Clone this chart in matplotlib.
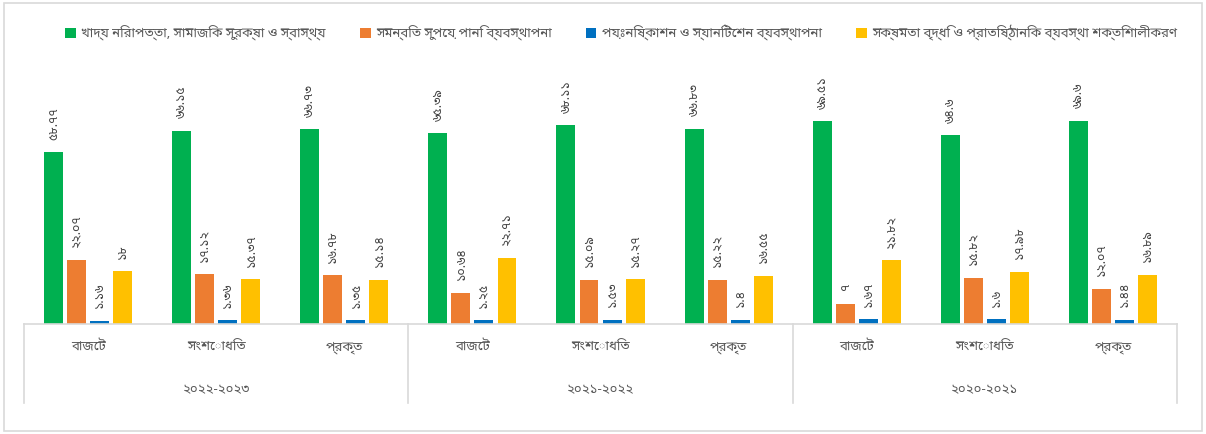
import numpy as np
import matplotlib
matplotlib.use("Agg")
import matplotlib.pyplot as plt
from matplotlib.patches import Rectangle
from matplotlib.transforms import blended_transform_factory

plt.rcParams['font.family'] = ['Noto Sans Bengali', 'DejaVu Sans']

years = ["২০২২-২০২৩", "২০২১-২০২২", "২০২০-২০২১"]
stages = ["বাজেট", "সংশোধিত", "প্রকৃত"]
series_names = [
    "খাদ্য নিরাপত্তা, সামাজিক সুরক্ষা ও স্বাস্থ্য",
    "সমন্বিত সুপেয় পানি ব্যবস্থাপনা",
    "পয়ঃনিষ্কাশন ও স্যানিটেশন ব্যবস্থাপনা",
    "সক্ষমতা বৃদ্ধি ও প্রাতিষ্ঠানিক ব্যবস্থা শক্তিশালীকরণ",
]
colors = ["#00b050", "#ed7d31", "#0070c0", "#ffc000"]

# order: 2022-23 (budget, revised, actual), 2021-22 (...), 2020-21 (...)
green = [58.77, 66.15, 66.73, 65.39, 68.11, 66.83, 69.51, 64.60, 69.60]
orange = [22.07, 17.12, 16.78, 10.64, 15.09, 15.22, 7, 15.82, 12.07]
blue = [1.16, 1.36, 1.35, 1.25, 1.53, 1.4, 1.67, 1.6, 1.44]
yellow = [18, 15.37, 15.14, 22.71, 15.27, 16.55, 21.82, 17.98, 16.89]
series = [green, orange, blue, yellow]

bn = str.maketrans("0123456789", "০১২৩৪৫৬৭৮৯")


def fmt(v):
    s = f"{v:.2f}".rstrip("0").rstrip(".")
    return s.translate(bn)


fig = plt.figure(figsize=(12.06, 4.34), dpi=100)
fig.patches.append(Rectangle((0.003, 0.006), 0.994, 0.988, transform=fig.transFigure,
                             fill=False, edgecolor="#d9d9d9", linewidth=1.2))
ax = fig.add_axes([0.0199, 0.2535, 0.9561, 0.538])

n = len(green)
x = np.arange(n)
w = 0.148
step = 0.18
for i, (vals, col, name) in enumerate(zip(series, colors, series_names)):
    pos = x + (i - 1.5) * step
    bars = ax.bar(pos, vals, width=w, color=col, label=name)
    for b, v in zip(bars, vals):
        ax.annotate(fmt(v), (b.get_x() + b.get_width() / 2, v), xytext=(0, 9),
                    textcoords="offset points", rotation=90, ha="center", va="bottom",
                    fontsize=9, color="#404040")

ax.set_xlim(-0.5, n - 0.5)
ax.set_ylim(0, 80)
ax.set_yticks([])
for s in ["top", "left", "right"]:
    ax.spines[s].set_visible(False)
ax.spines["bottom"].set_color("#d9d9d9")
ax.spines["bottom"].set_linewidth(1.2)

ax.set_xticks(x)
ax.set_xticklabels(stages * len(years), fontsize=9.5, color="#595959")
ax.tick_params(axis="x", length=0, pad=12)

trans = blended_transform_factory(ax.transData, ax.transAxes)
for g in range(len(years) + 1):
    ax.plot([g * 3 - 0.5, g * 3 - 0.5], [0, -0.34], transform=trans, color="#d9d9d9",
            linewidth=1.2, clip_on=False)
for g, yr in enumerate(years):
    ax.text(g * 3 + 1, -0.28, yr, transform=trans, ha="center", va="center",
            fontsize=9.5, color="#595959")

fig.legend(loc="upper center", bbox_to_anchor=(0.515, 0.97), ncol=4, frameon=False,
           fontsize=9.5, labelcolor="#595959", handlelength=0.8, handleheight=0.8,
           handletextpad=0.4, columnspacing=2.6)

fig.savefig("out.png", dpi=100)
